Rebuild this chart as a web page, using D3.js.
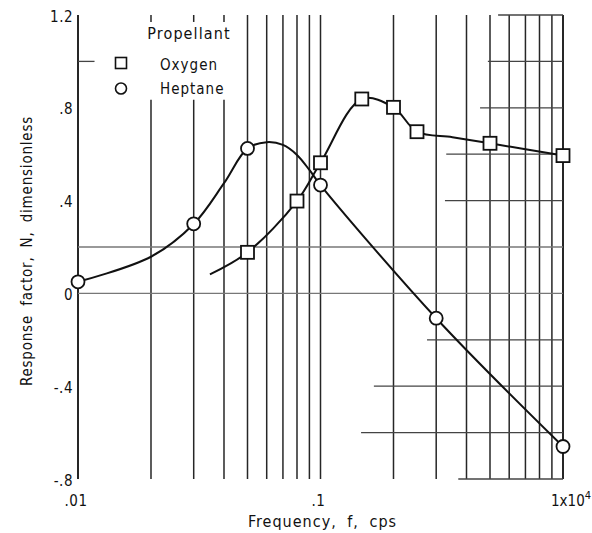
<!DOCTYPE html>
<html>
<head>
<meta charset="utf-8">
<script src="https://cdn.jsdelivr.net/npm/d3@7"></script>
<style>
  body { margin: 0; background: #fff; }
  text { font-family: "DejaVu Sans Condensed", "DejaVu Sans", sans-serif; fill: #111; }
</style>
</head>
<body>
<svg id="chart"></svg>
<script>
// symbols
const heptaneFreq = [0.01, 0.03, 0.05, 0.1, 0.3, 1.0];
const heptaneN    = [0.05, 0.30, 0.625, 0.467, -0.107, -0.66];
const oxygenFreq  = [0.05, 0.08, 0.1, 0.148, 0.2, 0.25, 0.5, 1.0];
const oxygenN     = [0.177, 0.398, 0.563, 0.838, 0.802, 0.697, 0.647, 0.594];

// faired curves as drawn in the figure
const heptaneCurveFreq = [0.01, 0.02, 0.03, 0.04, 0.05, 0.06, 0.07, 0.08, 0.09, 0.1, 0.3, 1.0];
const heptaneCurveN    = [0.05, 0.158, 0.299, 0.475, 0.625, 0.652, 0.64, 0.597, 0.532, 0.467, -0.107, -0.66];
const oxygenCurveFreq  = [0.035, 0.05, 0.08, 0.1, 0.148, 0.2, 0.25, 0.35, 0.5, 1.0];
const oxygenCurveN     = [0.082, 0.177, 0.398, 0.563, 0.838, 0.802, 0.697, 0.673, 0.647, 0.594];

const yTickValues = [1.2, 0.8, 0.4, 0, -0.4, -0.8];
const yTickLabels = ["1.2", ".8", ".4", "0", "-.4", "-.8"];
const xTickValues = [0.01, 0.1, 1];
const xTickLabels = [".01", ".1", "1x10"];

// graph-paper horizontal rules: level and the frequency where each starts
const hRuleN    = [1.2, 1.0, 0.8, 0.6, 0.4, 0.2, 0, -0.2, -0.4, -0.6, -0.8];
const hRuleFrom = [0.54, 0.49, 0.455, 0.33, 0.326, 0.01, 0.01, 0.275, 0.166, 0.147, 0.37];
// vertical rules interrupted by the legend
const legendGapFreq = [0.02, 0.03, 0.04];
const legendGapN = [0.835, 1.17];

const legendTitle = "Propellant";
const legendNames = ["Oxygen", "Heptane"];

var margin = {top: 15, right: 29, bottom: 54, left: 78},
    width = 592 - margin.left - margin.right,
    height = 533 - margin.top - margin.bottom;

const svg = d3.select("#chart")
    .attr("width", 592)
    .attr("height", 533)
  .append("g")
    .attr("transform", "translate(" + margin.left + "," + margin.top + ")");

const x = d3.scaleLog().domain([0.01, 1]).range([0, width]);
const y = d3.scaleLinear().domain([-0.8, 1.2]).range([height, 0]);

// vertical rules
const vFreq = d3.range(1, 10).map(d => d * 0.01).concat(d3.range(1, 11).map(d => d * 0.1));
const vg = svg.append("g").attr("class", "vgrid");
vFreq.forEach(f => {
  const gap = legendGapFreq.some(g => Math.abs(g - f) < 1e-9);
  const segs = gap ? [[1.2, legendGapN[1]], [legendGapN[0], -0.8]] : [[1.2, -0.8]];
  segs.forEach(s => {
    vg.append("line")
        .attr("x1", x(f)).attr("x2", x(f))
        .attr("y1", y(s[0])).attr("y2", y(s[1]))
        .attr("stroke", "#262626")
        .attr("stroke-width", f === 0.01 || f === 1 ? 2 : 1.5);
  });
});

// horizontal rules
svg.append("g").attr("class", "hgrid").selectAll("line")
    .data(hRuleN)
  .enter().append("line")
    .attr("x1", (d, i) => x(hRuleFrom[i]))
    .attr("x2", width)
    .attr("y1", d => y(d)).attr("y2", d => y(d))
    .attr("stroke", (d, i) => hRuleFrom[i] === 0.01 ? "#777" : "#444")
    .attr("stroke-width", 1.3);

// small tick at 1.0 on the left axis
svg.append("line")
    .attr("x1", 0).attr("x2", x(0.0117))
    .attr("y1", y(1.0)).attr("y2", y(1.0))
    .attr("stroke", "#444").attr("stroke-width", 1.3);

// y tick labels
svg.append("g").selectAll("text")
    .data(yTickValues)
  .enter().append("text")
    .attr("x", -5)
    .attr("y", d => y(d) + 2)
    .attr("text-anchor", "end")
    .attr("dominant-baseline", "middle")
    .style("font-size", "15px")
    .style("letter-spacing", "0.5px")
    .text((d, i) => yTickLabels[i]);

// x tick labels
const xl = svg.append("g").selectAll("text")
    .data(xTickValues)
  .enter().append("text")
    .attr("x", d => x(d) + (d === 1 ? -12 : -2))
    .attr("y", height + 27)
    .attr("text-anchor", d => d === 1 ? "start" : "middle")
    .style("font-size", "15px")
    .style("letter-spacing", d => d === 1 ? "0px" : "0.5px")
    .text((d, i) => xTickLabels[i]);
xl.filter(d => d === 1).append("tspan")
    .attr("dy", -7)
    .style("font-size", "11px")
    .text("4");

// axis titles
svg.append("text")
    .attr("x", x(0.1) + 2)
    .attr("y", height + 48)
    .attr("text-anchor", "middle")
    .style("font-size", "16px")
    .style("letter-spacing", "1px")
    .style("word-spacing", "5px")
    .text("Frequency, f, cps");

svg.append("text")
    .attr("transform", "translate(" + (-46) + "," + (y(0.2) + 4) + ") rotate(-90)")
    .attr("text-anchor", "middle")
    .style("font-size", "15px")
    .style("letter-spacing", "0.8px")
    .style("word-spacing", "4px")
    .text("Response factor, N, dimensionless");

// faired curves
const line = d3.line()
    .x(d => x(d[0]))
    .y(d => y(d[1]))
    .curve(d3.curveCatmullRom.alpha(0.5));

const heptane = heptaneFreq.map((f, i) => [f, heptaneN[i]]);
const oxygen = oxygenFreq.map((f, i) => [f, oxygenN[i]]);

svg.append("path")
    .attr("d", line(heptaneCurveFreq.map((f, i) => [f, heptaneCurveN[i]])))
    .attr("fill", "none").attr("stroke", "#111").attr("stroke-width", 2);
svg.append("path")
    .attr("d", line(oxygenCurveFreq.map((f, i) => [f, oxygenCurveN[i]])))
    .attr("fill", "none").attr("stroke", "#111").attr("stroke-width", 2);

// symbols
const sq = 13;
svg.append("g").selectAll("rect")
    .data(oxygen)
  .enter().append("rect")
    .attr("x", d => x(d[0]) - sq / 2)
    .attr("y", d => y(d[1]) - sq / 2)
    .attr("width", sq).attr("height", sq)
    .attr("fill", "#fff").attr("stroke", "#111").attr("stroke-width", 1.8);

svg.append("g").selectAll("circle")
    .data(heptane)
  .enter().append("circle")
    .attr("cx", d => x(d[0]))
    .attr("cy", d => y(d[1]))
    .attr("r", 6.5)
    .attr("fill", "#fff").attr("stroke", "#111").attr("stroke-width", 1.8);

// legend
const lg = svg.append("g").attr("transform", "translate(43,0)");
lg.append("text")
    .attr("x", 68).attr("y", 24)
    .attr("text-anchor", "middle")
    .style("font-size", "16px")
    .style("letter-spacing", "1.1px")
    .text(legendTitle);
lg.append("rect")
    .attr("x", -5.5).attr("y", 42.5).attr("width", 11).attr("height", 11)
    .attr("fill", "#fff").attr("stroke", "#111").attr("stroke-width", 1.6);
lg.append("circle")
    .attr("cx", 0).attr("cy", 73.5).attr("r", 5.5)
    .attr("fill", "#fff").attr("stroke", "#111").attr("stroke-width", 1.6);
lg.selectAll(".lname")
    .data(legendNames)
  .enter().append("text")
    .attr("class", "lname")
    .attr("x", 39).attr("y", (d, i) => i ? 74 : 50)
    .attr("dominant-baseline", "middle")
    .style("font-size", "15px")
    .style("letter-spacing", "1px")
    .text(d => d);
</script>
</body>
</html>
